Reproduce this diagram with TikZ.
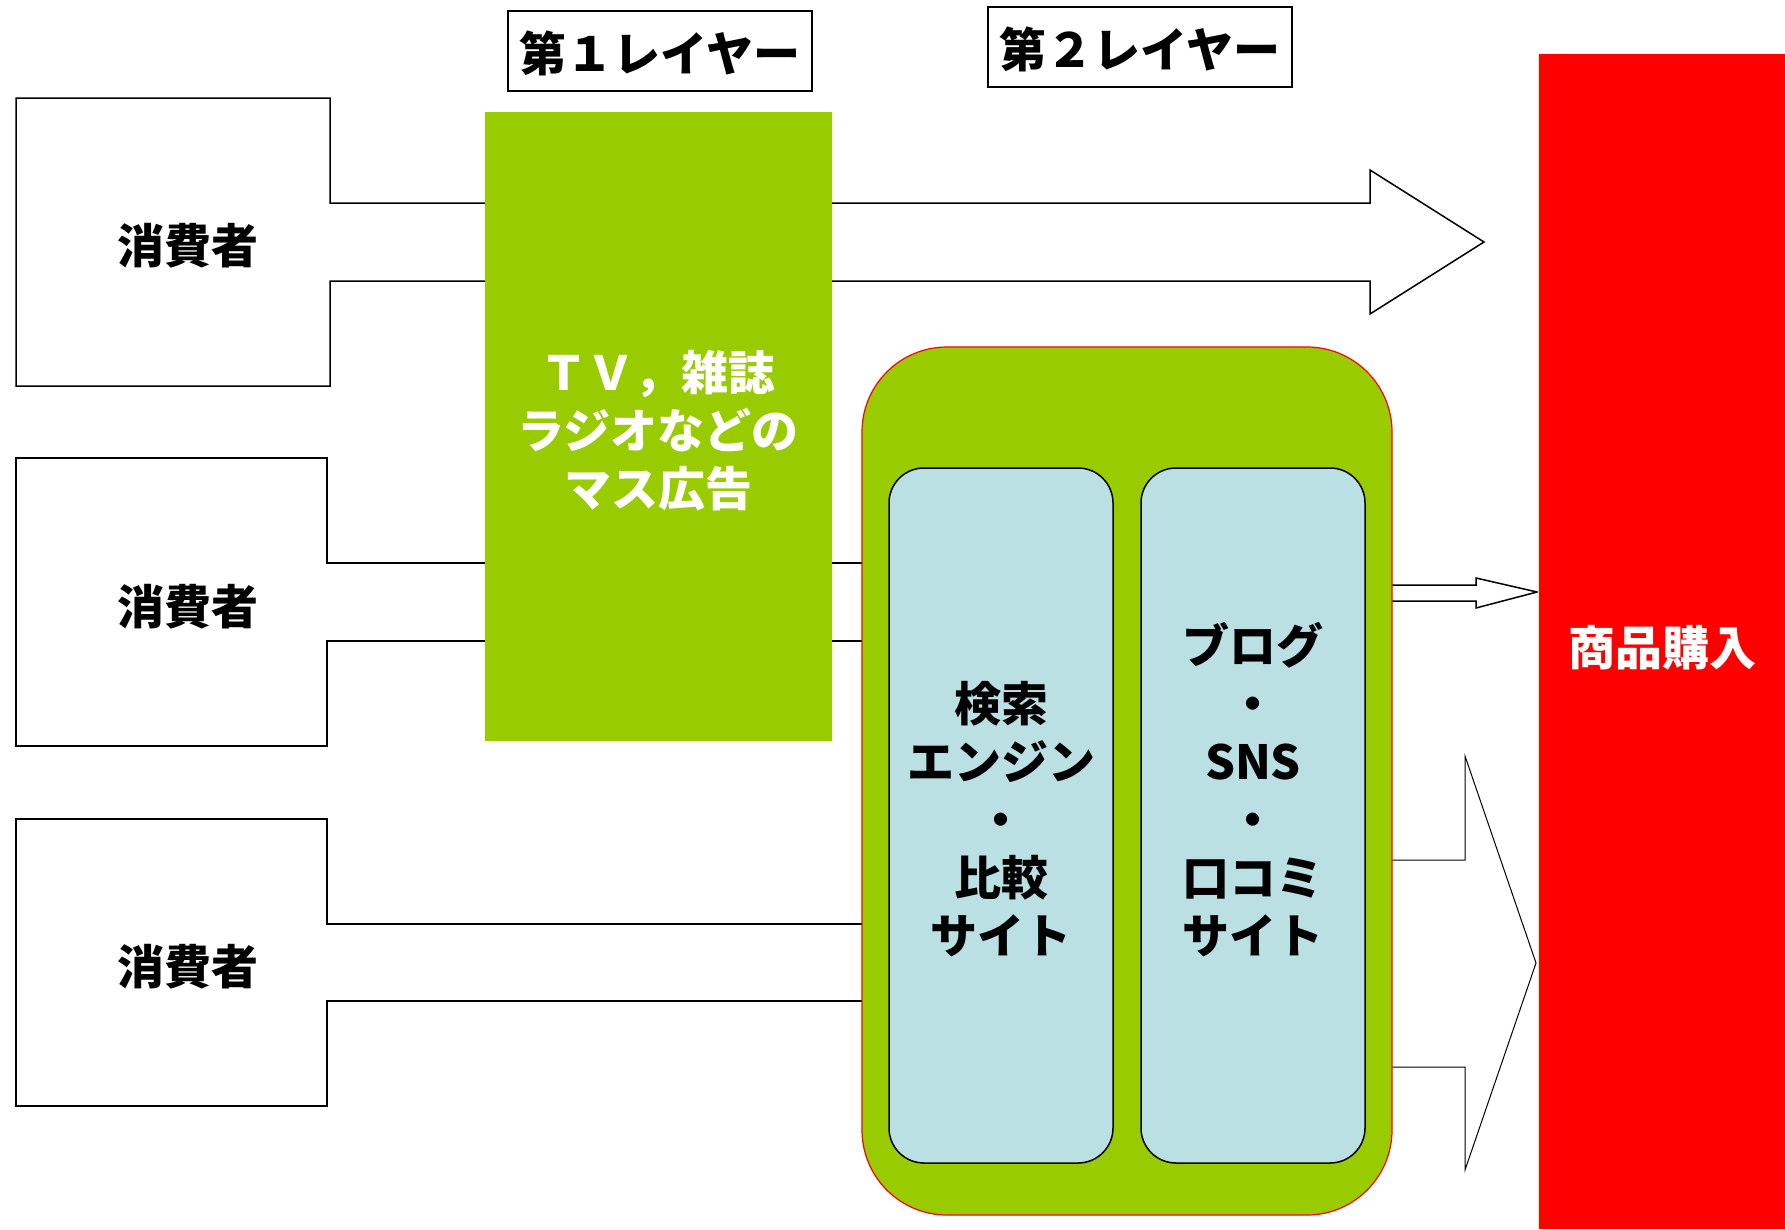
\documentclass[tikz,border=0pt]{standalone}
\usepackage{fontspec}
\newfontfamily\jp{Noto Sans CJK JP}[BoldFont={Noto Sans CJK JP Black}]
\definecolor{grn}{HTML}{99CC00}
\definecolor{lblue}{HTML}{BBE0E3}
\definecolor{pyellow}{HTML}{FFFF99}
\begin{document}
\begin{tikzpicture}[x=1pt,y=-1pt,
  txt/.style={font=\jp\bfseries\fontsize{47}{58}\selectfont, align=center, inner sep=0pt},
  blockarrow/.style={draw=black, line width=1.5pt, fill=white, line join=miter},
  thinarrow/.style={draw=black, line width=1pt, fill=white, line join=miter},
  plainbox/.style={inner sep=0pt, outer sep=0pt},
  labelbox/.style={plainbox, draw=black, line width=1.5pt, fill=white, minimum width=304pt, minimum height=80pt},
]
\useasboundingbox (0,0) rectangle (1785,1229);
% consumer block arrows
\draw[blockarrow] (16,98) -- (330,98) -- (330,203) -- (1370,203) -- (1370,170) -- (1484,242)
  -- (1370,314) -- (1370,281) -- (330,281) -- (330,386) -- (16,386) -- cycle;
\draw[blockarrow] (16,458) -- (327,458) -- (327,563) -- (900,563) -- (900,641) -- (327,641)
  -- (327,746) -- (16,746) -- cycle;
\draw[blockarrow] (16,819) -- (327,819) -- (327,924) -- (900,924) -- (900,1001) -- (327,1001)
  -- (327,1106) -- (16,1106) -- cycle;
% output arrows
\draw[blockarrow] (1380,585) -- (1476,585) -- (1476,578) -- (1537,592) -- (1476,608)
  -- (1476,601) -- (1380,601) -- cycle;
\draw[thinarrow] (1380,860) -- (1465,860) -- (1465,756) -- (1536,963) -- (1465,1170)
  -- (1465,1067) -- (1380,1067) -- cycle;
% mass ads box
\node[plainbox, fill=grn, minimum width=347pt, minimum height=629pt] (mass) at (658.5,426.5) {};
% layer 2 container
\node[plainbox, fill=grn, draw=red, line width=1.2pt, rounded corners=85pt,
  minimum width=530pt, minimum height=868pt] (web) at (1127,781) {};
\node[plainbox, fill=lblue, draw=black, line width=1.5pt, rounded corners=35pt,
  minimum width=224pt, minimum height=695pt] (search) at (1001,815.5) {};
\node[plainbox, fill=lblue, draw=black, line width=1.5pt, rounded corners=35pt,
  minimum width=224pt, minimum height=695pt] (social) at (1253,815.5) {};
% purchase
\node[plainbox, fill=red, draw=pyellow, line width=1pt, minimum width=247pt, minimum height=1176pt] (buy) at (1661.5,641) {};
% labels
\node[labelbox] (l1) at (660,51) {};
\node[labelbox] (l2) at (1140,47) {};
\node[txt] (l1t) at (660,53) {第１レイヤー};
\node[txt] (l2t) at (1140,49) {第２レイヤー};
% texts
\node[txt] (c1) at (188,246) {消費者};
\node[txt] (c2) at (188,607) {消費者};
\node[txt] (c3) at (188,967) {消費者};
\node[txt, text=white] (masst) at (658,431) {ＴＶ，雑誌\\ラジオなどの\\マス広告};
\node[txt] (searcht) at (1001,819) {検索\\エンジン\\・\\比較\\サイト};
\node[txt] (socialt) at (1253,790) {ブログ\\・\\SNS\\・\\口コミ\\サイト};
\node[txt, text=white] (buyt) at (1662,648) {商品購入};
\end{tikzpicture}
\end{document}
